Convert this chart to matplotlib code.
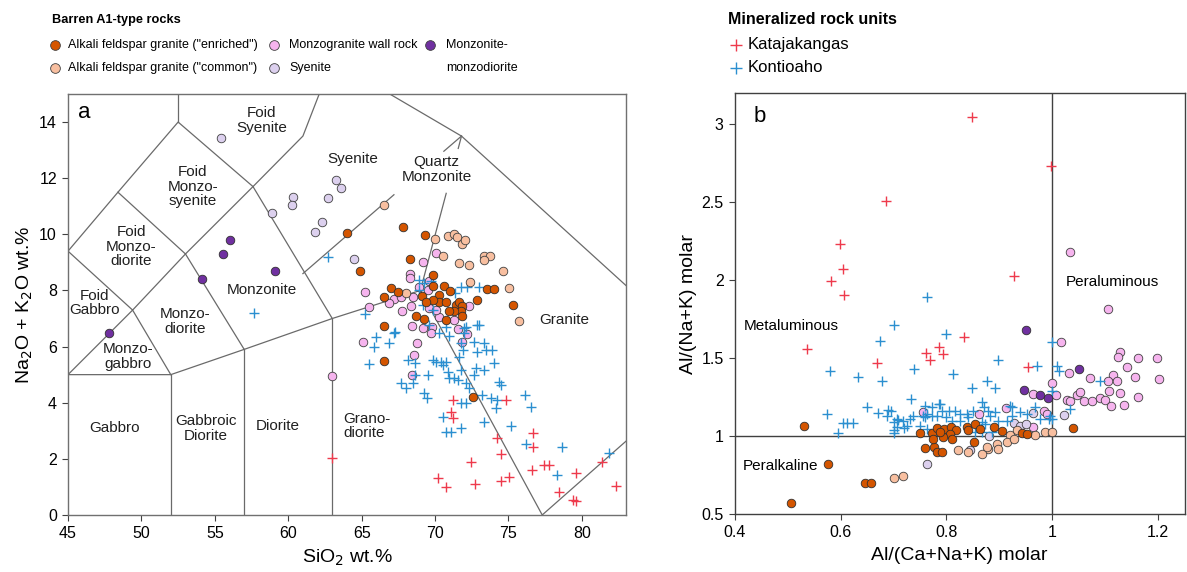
import matplotlib
matplotlib.use('Agg')
import matplotlib.pyplot as plt
from matplotlib.lines import Line2D

plt.rcParams['font.family'] = ['Liberation Sans', 'DejaVu Sans']

# ---------------- colours ----------------
C_ENR = '#d45500'
C_COM = '#f8bfa0'
C_MZG = '#f6b4ee'
C_SYE = '#dcd0ee'
C_MON = '#7030a0'
C_KAT = '#ee3a4c'
C_KON = '#2b8fd0'

# ---------------- panel a data (SiO2, Na2O+K2O) ----------------
enr_a_sio2 = [64.03, 64.9, 66.55, 66.55, 72.6, 75.32, 67.8, 69.34, 68.29, 69.84, 67.0, 66.55, 67.46,
              69.11, 69.84, 70.63, 71.04, 70.24, 70.29, 69.84, 69.38, 70.74, 71.42, 71.65, 71.83, 71.76,
              71.31, 70.97, 71.83, 70.74, 69.27, 68.7, 72.83, 73.57, 74.03]
enr_a_alk = [10.04, 8.7, 6.73, 5.49, 4.22, 7.49, 10.25, 9.96, 9.12, 8.55, 8.1, 7.76, 7.96,
             7.81, 8.16, 8.16, 7.98, 7.84, 7.6, 7.66, 7.6, 7.6, 7.49, 7.6, 7.43, 7.28,
             7.28, 7.25, 7.09, 6.93, 6.99, 7.09, 7.66, 8.04, 8.06]

com_a_sio2 = [66.55, 70.02, 70.9, 71.3, 71.5, 71.83, 72.06, 70.52, 73.35, 73.76, 73.35, 71.6, 72.33,
              74.64, 72.4, 75.05, 75.75, 68.02]
com_a_alk = [11.05, 9.82, 9.94, 10.0, 9.9, 9.65, 9.8, 9.24, 9.21, 9.21, 9.09, 8.97, 8.91,
             8.7, 8.29, 8.08, 6.9, 7.9]

mzg_a_sio2 = [65.26, 65.48, 65.08, 63.0, 68.75, 68.59, 68.43, 71.83, 72.21, 71.53, 70.06, 69.16, 68.32,
              68.32, 69.56, 68.93, 67.23, 66.89, 67.68, 68.36, 67.75, 68.43, 69.16, 69.79, 69.72, 72.28,
              71.31, 70.29, 69.61, 70.06, 68.48, 69.5]
mzg_a_alk = [7.94, 7.4, 6.15, 4.96, 6.14, 5.7, 4.99, 6.17, 6.45, 6.61, 9.35, 9.0, 8.59,
             8.43, 8.35, 8.11, 7.69, 7.54, 7.75, 7.43, 7.25, 6.74, 6.65, 6.71, 6.48, 7.43,
             6.95, 7.07, 7.37, 7.31, 7.76, 8.02]

sye_a_sio2 = [55.45, 58.89, 60.32, 60.25, 61.84, 62.31, 62.7, 63.27, 63.56, 64.47]
sye_a_alk = [13.42, 10.77, 11.32, 11.03, 10.07, 10.45, 11.28, 11.93, 11.66, 9.11]

mon_a_sio2 = [56.0, 55.56, 59.07, 54.15, 47.8]
mon_a_alk = [9.8, 9.31, 8.7, 8.4, 6.47]

kon_a_sio2 = [62.74, 57.7, 65.2, 65.98, 65.87, 66.89, 67.3, 65.48, 68.14, 68.66, 68.66, 67.68, 68.02,
              68.48, 69.22, 69.45, 69.5, 69.83, 70.06, 70.4, 70.74, 70.51, 70.85, 70.97, 71.31, 71.53,
              71.76, 71.65, 71.87, 71.76, 71.99, 72.1, 73.0, 72.67, 72.89, 73.35, 73.46, 73.91, 74.03,
              73.35, 72.78, 72.67, 72.1, 72.33, 73.23, 73.8, 74.25, 74.37, 74.48, 71.76, 72.1, 70.51,
              70.74, 71.08, 71.76, 73.35, 75.16, 76.13, 76.52, 76.18, 78.67, 78.33, 81.84, 74.14,
              68.93, 69.27, 69.72, 68.88, 72.21, 71.76, 72.96, 71.38, 69.16, 69.84, 70.74, 69.61,
              72.89, 71.99, 70.97, 70.29, 67.23]
kon_a_alk = [9.2, 7.21, 7.15, 6.35, 6.0, 6.12, 6.51, 5.37, 5.52, 5.4, 4.99, 4.69, 4.51,
             4.69, 4.33, 4.16, 4.99, 5.52, 5.46, 5.46, 5.46, 5.34, 5.11, 4.87, 4.87, 4.81,
             5.17, 5.64, 5.88, 6.12, 6.47, 6.71, 6.77, 6.18, 5.82, 6.12, 5.88, 5.88, 5.4,
             5.17, 5.23, 4.99, 4.69, 4.51, 4.28, 4.16, 4.1, 4.75, 4.63, 3.98, 3.98, 3.5,
             2.97, 2.97, 3.09, 3.33, 3.17, 4.28, 3.86, 2.53, 2.43, 1.42, 2.22, 3.8,
             8.38, 8.26, 8.32, 8.02, 8.14, 8.11, 8.11, 7.9, 7.49, 7.31, 6.71, 6.77,
             6.77, 6.65, 6.36, 6.48, 6.48]

kat_a_sio2 = [63.0, 71.2, 71.08, 71.24, 74.82, 74.25, 74.48, 72.44, 70.17, 70.74, 72.74, 74.48, 75.05,
              76.68, 76.7, 76.59, 77.43, 77.77, 79.62, 78.45, 79.42, 79.58, 81.35, 82.3]
kat_a_alk = [2.04, 4.1, 3.68, 3.44, 4.1, 2.73, 2.17, 1.9, 1.3, 1.01, 1.09, 1.22, 1.37,
             2.93, 2.43, 1.6, 1.78, 1.78, 1.51, 0.82, 0.53, 0.51, 1.9, 1.04]

# ---------------- panel b data (A/CNK, A/NK) ----------------
enr_b_acnk = [0.506, 0.531, 0.577, 0.647, 0.657, 0.75, 0.76, 0.772, 0.776, 0.783, 0.783, 0.791, 0.795,
              0.808, 0.818, 0.807, 0.794, 0.788, 0.775, 0.81, 0.838, 0.841, 0.852, 0.854, 0.864, 0.89,
              0.905, 0.942, 0.952, 1.039]
enr_b_ank = [0.575, 1.069, 0.824, 0.703, 0.703, 1.02, 0.926, 1.02, 0.93, 0.9, 1.05, 0.898, 1.047,
             1.058, 1.037, 1.015, 0.994, 1.026, 0.984, 0.984, 1.058, 1.043, 0.962, 1.079, 1.047, 1.058,
             1.032, 1.02, 1.015, 1.054]

com_b_acnk = [0.7, 0.717, 0.968, 0.987, 1.0, 0.92, 0.934, 0.895, 0.898, 0.879, 0.914, 0.867, 0.841,
              0.821, 0.876, 0.927]
com_b_ank = [0.732, 0.743, 1.005, 1.026, 1.03, 1.011, 1.037, 0.952, 0.92, 0.92, 0.962, 0.888, 0.898,
             0.909, 0.93, 0.984]

mzg_b_acnk = [1.034, 1.106, 0.755, 1.017, 1.127, 1.124, 1.162, 1.197, 1.141, 1.031, 1.072, 1.115, 1.106,
              1.123, 1.157, 1.202, 1.0, 0.963, 1.007, 1.046, 1.053, 1.028, 1.034, 1.059, 1.075, 1.091,
              1.1, 1.11, 1.108, 1.128, 1.136, 1.162, 0.913, 0.862, 0.985, 0.99, 0.964]
mzg_b_ank = [2.18, 1.815, 1.154, 1.602, 1.538, 1.506, 1.501, 1.501, 1.442, 1.403, 1.374, 1.395, 1.357,
             1.357, 1.382, 1.367, 1.34, 1.271, 1.267, 1.267, 1.282, 1.233, 1.229, 1.224, 1.224, 1.246,
             1.233, 1.197, 1.288, 1.275, 1.203, 1.25, 1.182, 1.143, 1.16, 1.143, 1.058]

sye_b_acnk = [0.764, 0.963, 1.022, 0.928, 0.939, 0.951, 0.845, 0.881]
sye_b_ank = [0.824, 1.148, 1.139, 1.084, 1.069, 1.079, 0.909, 1.0]

mon_b_acnk = [0.951, 1.05, 0.947, 0.977, 0.992]
mon_b_ank = [1.68, 1.431, 1.297, 1.267, 1.244]

kon_b_acnk = [0.763, 0.7, 0.674, 0.58, 0.633, 0.678, 0.739, 0.733, 0.649, 0.575, 0.595, 0.605, 0.623,
              0.671, 0.69, 0.696, 0.7, 0.7, 0.709, 0.718, 0.725, 0.731, 0.76, 0.763, 0.75, 0.763,
              0.785, 0.782, 0.72, 0.8, 0.898, 0.999, 0.813, 0.848, 0.876, 0.892, 0.971, 1.009, 1.012,
              1.09, 1.034, 0.772, 0.788, 0.791, 0.804, 0.816, 0.826, 0.838, 0.851, 0.867, 0.87, 0.879,
              0.882, 0.892, 0.92, 0.923, 0.939, 0.952, 0.968, 0.996, 0.999, 0.999, 0.759, 0.772, 0.8,
              0.81, 0.826, 0.841, 0.854, 0.867, 0.867, 0.873, 0.886, 0.914, 0.923, 0.898, 0.977, 0.993,
              0.612, 0.687, 0.706, 0.737, 0.755, 0.7, 0.706]
kon_b_ank = [1.894, 1.715, 1.608, 1.416, 1.382, 1.357, 1.432, 1.24, 1.186, 1.144, 1.02, 1.084, 1.084,
             1.148, 1.17, 1.16, 1.09, 1.02, 1.105, 1.095, 1.065, 1.11, 1.197, 1.144, 1.069, 1.048,
             1.21, 1.13, 1.05, 1.655, 1.489, 1.602, 1.399, 1.31, 1.357, 1.31, 1.452, 1.452, 1.42,
             1.357, 1.175, 1.19, 1.207, 1.165, 1.165, 1.165, 1.143, 1.143, 1.165, 1.218, 1.186, 1.165,
             1.133, 1.154, 1.197, 1.186, 1.154, 1.143, 1.19, 1.133, 1.293, 1.111, 1.122, 1.133, 1.122,
             1.101, 1.101, 1.122, 1.026, 1.09, 1.026, 1.079, 1.026, 1.101, 1.133, 1.101, 1.111, 1.111,
             1.085, 1.127, 1.112, 1.127, 1.133, 1.037, 1.058]

kat_b_acnk = [0.849, 0.998, 0.686, 0.599, 0.605, 0.582, 0.607, 0.927, 0.833, 0.537, 0.668, 0.762, 0.769,
              0.785, 0.794, 0.954]
kat_b_ank = [3.045, 2.736, 2.512, 2.235, 2.071, 1.996, 1.907, 2.028, 1.638, 1.559, 1.467, 1.535, 1.49,
             1.57, 1.53, 1.446]

# ---------------- TAS (Middlemost plutonic) field boundaries ----------------
tas_lines = [
    [(52.5, 16.0), (52.5, 14.0)],
    [(45, 9.4), (48.4, 11.5), (52.5, 14.0), (57.6, 11.7), (63, 7)],
    [(57.6, 11.7), (61, 13.5), (63, 16.2)],
    [(48.4, 11.5), (53, 9.3), (57.6, 11.7)],
    [(45, 9.4), (49.4, 7.3), (53, 9.3)],
    [(45, 5), (49.4, 7.3), (52, 5)],
    [(53, 9.3), (57, 5.9)],
    [(45, 5), (52, 5), (57, 5.9), (63, 7), (69, 8)],
    [(52, 0), (52, 5)],
    [(57, 0), (57, 5.9)],
    [(63, 0), (63, 7)],
    [(69, 8), (77.3, 0), (87.5, 4.7)],
    [(63, 16.2), (71.8, 13.5), (85.9, 6.8)],
    [(61, 8.6), (67.2, 11.41)],
    [(70.6, 12.96), (71.8, 13.5)],
    [(69, 8), (70.76, 11.46)],
    [(71.58, 13.06), (71.8, 13.5)],
]

tas_labels = [
    ("Foid\nSyenite", 58.2, 14.05, 'center'),
    ("Foid\nMonzo-\nsyenite", 53.5, 11.7, 'center'),
    ("Foid\nMonzo-\ndiorite", 49.3, 9.56, 'center'),
    ("Foid\nGabbro", 46.8, 7.55, 'center'),
    ("Monzo-\ngabbro", 49.1, 5.64, 'center'),
    ("Monzo-\ndiorite", 52.95, 6.89, 'center'),
    ("Monzonite", 58.2, 8.02, 'center'),
    ("Syenite", 64.4, 12.7, 'center'),
    ("Quartz\nMonzonite", 70.1, 12.3, 'center'),
    ("Granite", 78.8, 6.95, 'center'),
    ("Grano-\ndiorite", 63.75, 3.17, 'left'),
    ("Gabbro", 48.2, 3.11, 'center'),
    ("Gabbroic\nDiorite", 54.4, 3.09, 'center'),
    ("Diorite", 59.3, 3.18, 'center'),
]

# ---------------- figure ----------------
fig = plt.figure(figsize=(11.87, 5.72), dpi=100)
ax_a = fig.add_axes([0.0573, 0.0997, 0.470, 0.736])
ax_b = fig.add_axes([0.619, 0.101, 0.379, 0.736])

EDGE = '#404040'
S_CIRC = 38
S_PLUS = 55


def draw_points(ax, kon, kat, mzg, sye, com, enr, mon):
    ax.scatter(*mzg, s=S_CIRC, c=C_MZG, edgecolors=EDGE, linewidths=0.6, zorder=3)
    ax.scatter(*sye, s=S_CIRC, c=C_SYE, edgecolors=EDGE, linewidths=0.6, zorder=3)
    ax.scatter(*kon, s=S_PLUS, c=C_KON, marker='+', linewidths=1.0, zorder=4)
    ax.scatter(*kat, s=S_PLUS, c=C_KAT, marker='+', linewidths=1.0, zorder=4)
    ax.scatter(*com, s=S_CIRC, c=C_COM, edgecolors=EDGE, linewidths=0.6, zorder=5)
    ax.scatter(*enr, s=S_CIRC, c=C_ENR, edgecolors='#303030', linewidths=0.6, zorder=5)
    ax.scatter(*mon, s=S_CIRC, c=C_MON, edgecolors='#303030', linewidths=0.6, zorder=6)


# ---- panel a ----
for seg in tas_lines:
    xs = [p[0] for p in seg]
    ys = [p[1] for p in seg]
    ax_a.plot(xs, ys, color='#6a6a6a', lw=0.9, zorder=1)
for txt, x, y, ha in tas_labels:
    ax_a.text(x, y, txt, ha=ha, va='center', multialignment=ha, fontsize=11,
              linespacing=1.05, color='#202020', zorder=2)

draw_points(ax_a, (kon_a_sio2, kon_a_alk), (kat_a_sio2, kat_a_alk), (mzg_a_sio2, mzg_a_alk),
            (sye_a_sio2, sye_a_alk), (com_a_sio2, com_a_alk), (enr_a_sio2, enr_a_alk),
            (mon_a_sio2, mon_a_alk))

ax_a.set_xlim(45, 83)
ax_a.set_ylim(0, 15)
ax_a.set_xticks([45, 50, 55, 60, 65, 70, 75, 80])
ax_a.set_yticks([0, 2, 4, 6, 8, 10, 12, 14])
ax_a.set_xlabel('SiO$_2$ wt.%', fontsize=14, labelpad=5)
ax_a.set_ylabel('Na$_2$O + K$_2$O wt.%', fontsize=14, labelpad=3)
ax_a.text(46.1, 14.35, 'a', fontsize=16, ha='center', va='center')
for sp in ax_a.spines.values():
    sp.set_color('#707070')
    sp.set_linewidth(1.0)

# ---- panel b ----
ax_b.axvline(1.0, color='#404040', lw=1.0, zorder=1)
ax_b.axhline(1.0, color='#404040', lw=1.0, zorder=1)
draw_points(ax_b, (kon_b_acnk, kon_b_ank), (kat_b_acnk, kat_b_ank), (mzg_b_acnk, mzg_b_ank),
            (sye_b_acnk, sye_b_ank), (com_b_acnk, com_b_ank), (enr_b_acnk, enr_b_ank),
            (mon_b_acnk, mon_b_ank))
ax_b.set_xlim(0.4, 1.25)
ax_b.set_ylim(0.5, 3.2)
ax_b.set_xticks([0.4, 0.6, 0.8, 1.0, 1.2])
ax_b.set_xticklabels(['0.4', '0.6', '0.8', '1', '1.2'])
ax_b.set_yticks([0.5, 1, 1.5, 2, 2.5, 3])
ax_b.set_yticklabels(['0.5', '1', '1.5', '2', '2.5', '3'])
ax_b.set_xlabel('Al/(Ca+Na+K) molar', fontsize=14, labelpad=5)
ax_b.set_ylabel('Al/(Na+K) molar', fontsize=14, labelpad=3)
ax_b.text(0.447, 3.05, 'b', fontsize=16, ha='center', va='center')
ax_b.text(0.417, 1.71, 'Metaluminous', fontsize=11, ha='left', va='center')
ax_b.text(0.416, 0.81, 'Peralkaline', fontsize=11, ha='left', va='center')
ax_b.text(1.026, 1.99, 'Peraluminous', fontsize=11, ha='left', va='center')
for sp in ax_b.spines.values():
    sp.set_color('#404040')
    sp.set_linewidth(1.0)

for ax in (ax_a, ax_b):
    ax.tick_params(axis='both', direction='out', length=4, width=0.8, color='#404040',
                   labelsize=11.5, pad=4)

# ---------------- legends (figure-level) ----------------
def W(px):
    return px / 1187.0


def H(py):
    return 1 - py / 572.0


fig.text(W(52), H(20), 'Barren A1-type rocks', fontsize=9.2, fontweight='bold',
         ha='left', va='center')
leg_items = [
    (55, 45, 68, 'Alkali feldspar granite ("enriched")', C_ENR),
    (55, 68, 68, 'Alkali feldspar granite ("common")', C_COM),
    (274, 45, 289, 'Monzogranite wall rock', C_MZG),
    (274, 68, 289, 'Syenite', C_SYE),
    (430, 45, 446, 'Monzonite-', C_MON),
]
for mx, my, tx, label, col in leg_items:
    fig.add_artist(Line2D([W(mx)], [H(my)], transform=fig.transFigure, marker='o', ms=7,
                          mfc=col, mec=EDGE, mew=0.6, ls='none'))
    fig.text(W(tx), H(my), label, fontsize=9.0, ha='left', va='center')
fig.text(W(446), H(68), 'monzodiorite', fontsize=9.0, ha='left', va='center')

fig.text(W(728), H(20), 'Mineralized rock units', fontsize=11.5, fontweight='bold', ha='left', va='center')
for my, label, col in [(45, 'Katajakangas', C_KAT), (68, 'Kontioaho', C_KON)]:
    fig.add_artist(Line2D([W(736)], [H(my)], transform=fig.transFigure, marker='+', ms=9,
                          mec=col, mew=1.0, ls='none'))
    fig.text(W(748), H(my), label, fontsize=12, ha='left', va='center')

fig.savefig('out.png', dpi=100)
